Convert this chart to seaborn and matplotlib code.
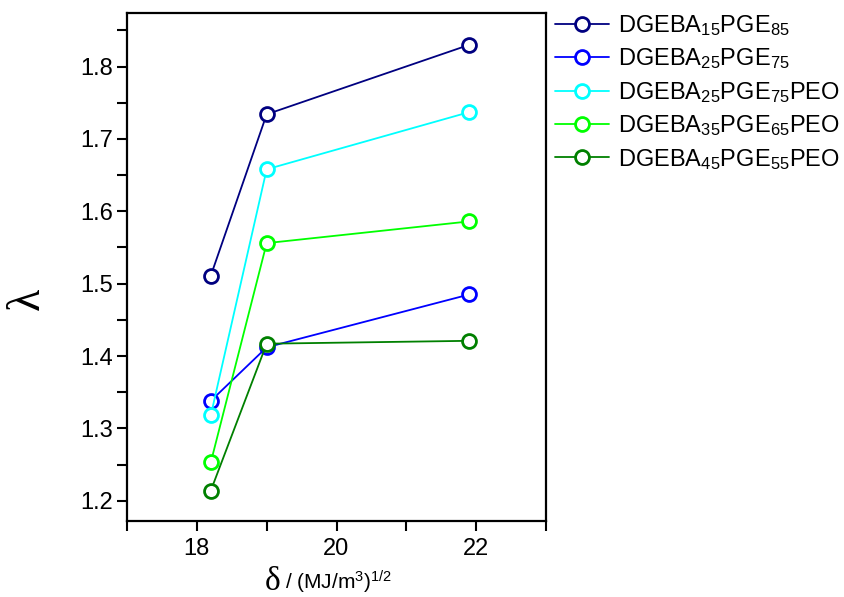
import numpy as np
import pandas as pd
import matplotlib
matplotlib.use("Agg")
import matplotlib.pyplot as plt
import seaborn as sns
from matplotlib.ticker import MultipleLocator

# 数据
delta = [18.2, 19.0, 21.9]
samples = [
    r"DGEBA$_{15}$PGE$_{85}$",
    r"DGEBA$_{25}$PGE$_{75}$",
    r"DGEBA$_{25}$PGE$_{75}$PEO",
    r"DGEBA$_{35}$PGE$_{65}$PEO",
    r"DGEBA$_{45}$PGE$_{55}$PEO",
]
lam_15_85 = [1.511, 1.734, 1.830]
lam_25_75 = [1.338, 1.412, 1.485]
lam_25_75_peo = [1.318, 1.658, 1.737]
lam_35_65_peo = [1.253, 1.556, 1.586]
lam_45_55_peo = [1.214, 1.417, 1.421]
colors = ["#000080", "#0000FF", "#00FFFF", "#00FF00", "#008000"]

series = [lam_15_85, lam_25_75, lam_25_75_peo, lam_35_65_peo, lam_45_55_peo]
df = pd.DataFrame({
    "delta": delta * len(samples),
    "lam": sum(series, []),
    "sample": np.repeat(samples, len(delta)),
})

sns.set_theme(style="ticks")
plt.rcParams["font.family"] = ["Liberation Sans", "DejaVu Sans"]
plt.rcParams["mathtext.default"] = "regular"
plt.rcParams["text.color"] = "black"
plt.rcParams["xtick.color"] = "black"
plt.rcParams["ytick.color"] = "black"

fig = plt.figure(figsize=(8.45, 5.97), dpi=100)
ax = fig.add_axes([127 / 845, 1 - 521 / 597, 419 / 845, 508 / 597])

for name, c in zip(samples, colors):
    sub = df[df["sample"] == name]
    sns.lineplot(data=sub, x="delta", y="lam", ax=ax, color=c, label=name,
                 marker="o", markersize=10, markerfacecolor="white",
                 markeredgecolor=c, markeredgewidth=2, linewidth=1.3)

ax.set_xlim(17, 23)
ax.set_ylim(1.172, 1.874)
ax.xaxis.set_major_locator(MultipleLocator(2))
ax.xaxis.set_minor_locator(MultipleLocator(1))
ax.yaxis.set_major_locator(MultipleLocator(0.1))
ax.yaxis.set_minor_locator(MultipleLocator(0.05))
ax.tick_params(which="both", direction="out", width=1.5, length=7, labelsize=17, color="black")
ax.tick_params(axis="x", pad=5)
ax.tick_params(axis="y", pad=3)
for s in ax.spines.values():
    s.set_linewidth(1.6)
    s.set_color("black")

ax.set_xlabel("")
ax.set_ylabel("")

# 坐标轴标题
fig.text(28 / 845, 1 - 299 / 597, "λ", fontsize=33, rotation=90, ha="center", va="center",
         family=["Liberation Serif", "DejaVu Serif"])
fig.text(281 / 845, 1 - 590 / 597, "δ", fontsize=24, ha="right", va="baseline",
         family=["Liberation Serif", "DejaVu Serif"])
fig.text(285 / 845, 1 - 590 / 597, r"/ (MJ/m$^{3}$)$^{1/2}$", fontsize=15, ha="left", va="baseline")

leg = ax.legend(loc="upper left", bbox_to_anchor=(1.0, 1.0), frameon=False, fontsize=17,
                handlelength=2.3, handletextpad=0.35, labelspacing=0.36, borderaxespad=0.0,
                borderpad=0.0)
leg.set_bbox_to_anchor((555 / 845, 1 - 13 / 597), transform=fig.transFigure)

fig.savefig("out.png", dpi=100)
